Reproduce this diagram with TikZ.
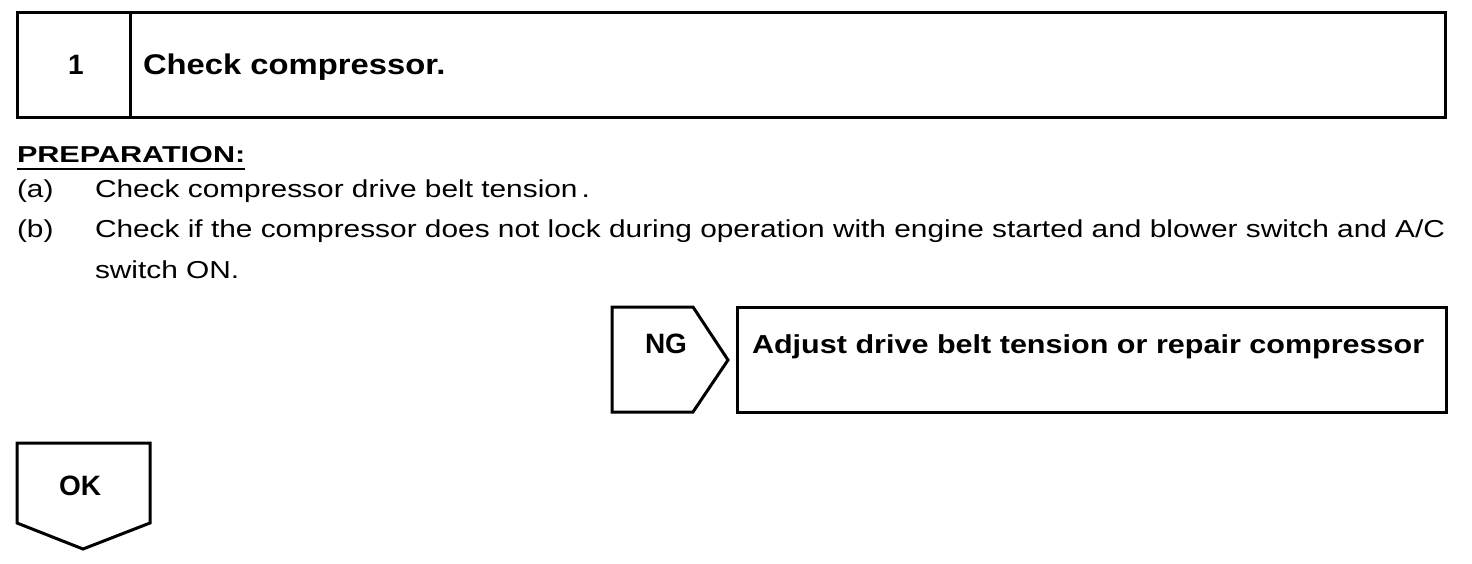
\documentclass[tikz,border=0pt]{standalone}
\usepackage{fontspec}
\setmainfont{Liberation Sans}
\newfontfamily\fbody[FakeStretch=1.218]{Liberation Sans}
\newfontfamily\ftitle[FakeStretch=1.15]{Liberation Sans}
\newfontfamily\fadj[FakeStretch=1.175]{Liberation Sans}
\newfontfamily\fprep[FakeStretch=1.33]{Liberation Sans}
\begin{document}
\begin{tikzpicture}[x=1pt,y=-1pt,line width=3pt,line join=miter,
  framebox/.style={draw,inner sep=0pt,outer sep=0pt},
  txt/.style={anchor=base west,inner sep=0pt,outer sep=0pt},
  bodyfont/.style={font=\fbody\fontsize{24.5}{28}\selectfont},
  titlefont/.style={font=\ftitle\bfseries\fontsize{28.5}{30}\selectfont},
  adjfont/.style={font=\fadj\bfseries\fontsize{26}{28}\selectfont},
  prepfont/.style={font=\fprep\bfseries\fontsize{23}{26}\selectfont},
  tagfont/.style={font=\bfseries\fontsize{28}{30}\selectfont}]
\useasboundingbox (0,0) rectangle (1472,564);
% header
\node[framebox,minimum width=1428pt,minimum height=105pt] (hdr) at (731.5,65.5) {};
\draw ([xshift=113pt]hdr.north west) -- ([xshift=113pt]hdr.south west);
\node[txt,anchor=base,tagfont] (num) at (76,75) {1};
\node[txt,titlefont] (title) at (143,75) {Check compressor.};
% preparation
\node[txt,prepfont] (prep) at (17,163) {PREPARATION:};
\draw[line width=2pt] ([yshift=-6pt]prep.base west) -- ([yshift=-6pt]prep.base east);
\node[txt,bodyfont] (la) at (17,197) {(a)};
\node[txt,bodyfont] (ta) at (95,197) {Check compressor drive belt tension\,.};
\node[txt,bodyfont] (lb) at (17,237) {(b)};
\node[txt,bodyfont] (tb) at (95,237) {Check if the compressor does not lock during operation with engine started and blower switch and A/C};
\node[txt,bodyfont] (tb2) at (95,278) {switch ON.};
% NG branch
\coordinate (ng1) at (612,307);
\coordinate (ng2) at (693,307);
\coordinate (ng3) at (728,360);
\coordinate (ng4) at (693,412);
\coordinate (ng5) at (612,412);
\draw (ng1) -- (ng2) -- (ng3) -- (ng4) -- (ng5) -- cycle;
\node[txt,anchor=base,tagfont] (ng) at (666,353) {NG};
\node[framebox,minimum width=709pt,minimum height=105pt] (adj) at (1091.5,359.5) {};
\node[txt,adjfont] (adjt) at (752,353) {Adjust drive belt tension or repair compressor};
% OK
\coordinate (ok1) at (17,443);
\coordinate (ok2) at (150,443);
\coordinate (ok3) at (150,523);
\coordinate (ok4) at (83,549);
\coordinate (ok5) at (17,523);
\draw (ok1) -- (ok2) -- (ok3) -- (ok4) -- (ok5) -- cycle;
\node[txt,anchor=base,tagfont] (ok) at (80,495) {OK};
\end{tikzpicture}
\end{document}
